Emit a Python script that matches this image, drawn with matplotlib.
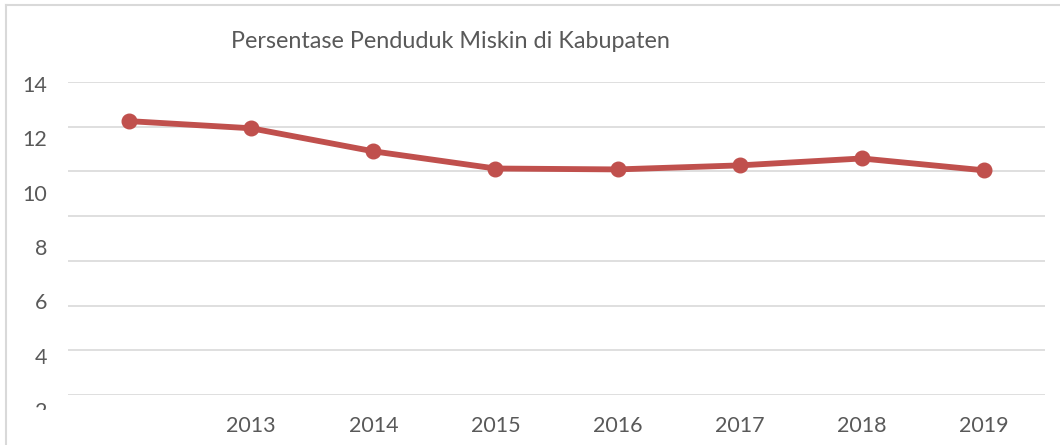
import matplotlib.pyplot as plt
from matplotlib.lines import Line2D
from matplotlib.transforms import Bbox, TransformedBbox

years = ['', '2013', '2014', '2015', '2016', '2017', '2018', '2019']
persen = [12.25, 11.93, 10.9, 10.13, 10.09, 10.27, 10.58, 10.05]
y_labels = [14, 12, 10, 8, 6, 4, 2]

W, H = 1060, 445
plt.rcParams['font.family'] = ['Lato', 'DejaVu Sans']
txt = '#595959'
grid = '#d9d9d9'

fig = plt.figure(figsize=(W / 100, H / 100), dpi=100)

# plot area (pixels from the top of the picture)
left, right, top, bottom = 68, 1045, 82, 395
ax = fig.add_axes([left / W, 1 - bottom / H, (right - left) / W, (bottom - top) / H])
x = list(range(len(years)))
ax.plot(x, persen, color='#c0504d', lw=4.2, marker='o', ms=10.5, zorder=3)
ax.set_xlim(-0.5, len(years) - 0.5)
ax.set_ylim(0, 14)
ax.set_yticks(range(0, 15, 2))
ax.yaxis.grid(True, color=grid, lw=1.2)
ax.set_yticklabels([])
ax.tick_params(axis='y', length=0)
ax.set_xticks(x)
ax.set_xticklabels(years, color=txt, fontsize=15.5)
ax.tick_params(axis='x', length=0, pad=15)
for s in ax.spines.values():
    s.set_visible(False)

# y labels sit on their own scale (as in the source picture)
lab_top, lab_bot = 82, 420
lax = fig.add_axes([left / W, 1 - lab_bot / H, (right - left) / W, (lab_bot - lab_top) / H])
lax.patch.set_visible(False)
step = 27.15
lax.set_ylim(14 - (lab_bot - 84) / step, 14 + 2 / step)
lax.set_yticks(y_labels)
lax.set_yticklabels([str(v) for v in y_labels], color=txt, fontsize=15.5)
lax.tick_params(axis='y', length=0, pad=15)
lax.set_xticks([])
for s in lax.spines.values():
    s.set_visible(False)
clip = TransformedBbox(Bbox([[0, 35 / H], [0.2, 1]]), fig.transFigure)
for t in lax.get_yticklabels():
    t.set_clip_on(True)
    t.set_clip_box(clip)

fig.text(450 / W, 1 - 42 / H, 'Persentase Penduduk Miskin di Kabupaten',
         ha='center', va='center', color=txt, fontsize=16.8)

# chart border
fig.add_artist(Line2D([6 / W, 6 / W], [0, 1 - 5 / H], transform=fig.transFigure, color=grid, lw=1.5))
fig.add_artist(Line2D([6 / W, 1], [1 - 5 / H, 1 - 5 / H], transform=fig.transFigure, color=grid, lw=1.5))

fig.savefig('out.png', dpi=100)
